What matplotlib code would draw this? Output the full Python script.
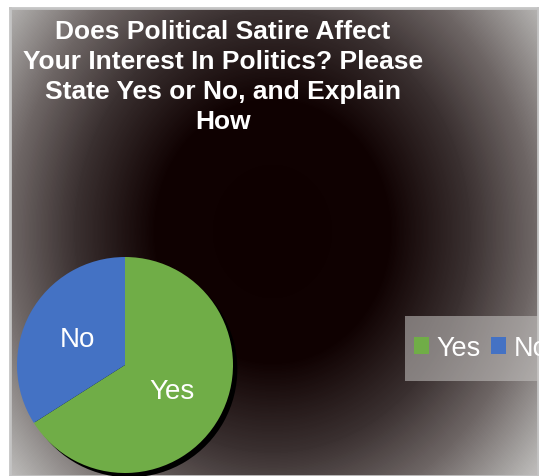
import numpy as np
import matplotlib
matplotlib.use('Agg')
import matplotlib.pyplot as plt
from matplotlib.colors import LinearSegmentedColormap
from matplotlib.patches import Patch, Rectangle

labels = ['Yes', 'No']
values = [66, 34]
colors = ['#70ad47', '#4472c4']
title = 'Does Political Satire Affect\nYour Interest In Politics? Please\nState Yes or No, and Explain\nHow'

plt.rcParams['font.family'] = ['Liberation Sans', 'DejaVu Sans']

W, H = 539, 477
fig = plt.figure(figsize=(W / 100, H / 100), dpi=100, facecolor='white')

# background panel with a radial dark-to-grey blend
x0, y0, x1, y1 = 10, 9, 538, 477
bg = fig.add_axes([x0 / W, 0, (x1 - x0) / W, (y1 - y0) / H])
bg.set_xticks([])
bg.set_yticks([])
for s in bg.spines.values():
    s.set_color('#c4c4c4')
    s.set_linewidth(2)
ny, nx = y1 - y0, x1 - x0
yy, xx = np.mgrid[0:ny, 0:nx]
cx, cy = 272 - x0, 232 - y0
r = np.sqrt(((xx - cx) / 262.0) ** 2 + ((yy - cy) / 293.0) ** 2)
cmap = LinearSegmentedColormap.from_list(
    'bg', [(0.0, '#0e0000'), (0.45 / 1.3, '#100202'), (0.75 / 1.3, '#3a3030'),
           (1.0 / 1.3, '#6e6665'), (1.25 / 1.3, '#b0aeac'), (1.0, '#bdbbba')])
bg.imshow(np.clip(r, 0, 1.3), cmap=cmap, vmin=0, vmax=1.3, aspect='auto',
          interpolation='bilinear')

# pie chart
R = 108
pcx, pcy = 125, H - 366
k = 1.1
ax = fig.add_axes([(pcx - R * k) / W, (pcy - R * k) / H, 2 * R * k / W, 2 * R * k / H])
ax.set_axis_off()
ax.pie(values, colors=['black', 'black'], startangle=90, counterclock=False,
       center=(0.04, -0.04), radius=1.0, wedgeprops=dict(linewidth=0))
wedges, texts = ax.pie(values, labels=labels, colors=colors, startangle=90,
                       counterclock=False, labeldistance=0.5, radius=1.0,
                       wedgeprops=dict(linewidth=0),
                       textprops=dict(color='white', fontsize=20))
for t in texts:
    t.set_ha('center')
    t.set_va('center')
ax.set_xlim(-k, k)
ax.set_ylim(-k, k)

# legend box on the right, partly running off the edge
fig.patches.append(Rectangle((405 / W, 1 - 382 / H), 150 / W, 65 / H,
                             transform=fig.transFigure, facecolor='#c8c6c4',
                             alpha=0.55, edgecolor='none', zorder=3))
handles = [Patch(facecolor=c, edgecolor='none') for c in colors]
leg = fig.legend(handles, labels, loc='center left', bbox_to_anchor=(409 / W, 1 - 349 / H),
                 ncol=2, frameon=False, fontsize=19.5, handlelength=0.55, handleheight=0.55,
                 handletextpad=0.28, columnspacing=0.36, borderpad=0.2, borderaxespad=0)
for t in leg.get_texts():
    t.set_color('white')

fig.text(223 / W, 1 - 20 / H, title, ha='center', va='top', color='white',
         fontsize=19, fontweight='bold', linespacing=1.32)

fig.savefig('out.png', dpi=100, facecolor='white')
